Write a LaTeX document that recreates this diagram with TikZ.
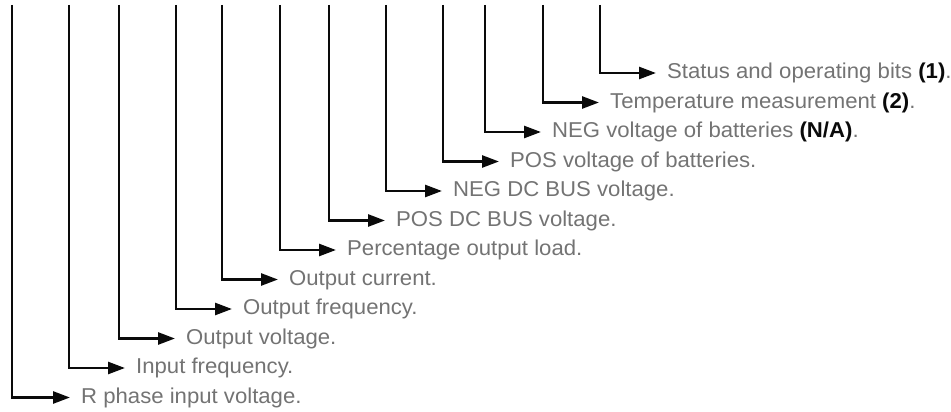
\documentclass[tikz,border=0pt]{standalone}
\usepackage{fontspec}
\setmainfont[FakeStretch=1.03]{Liberation Sans}
\usepackage{xcolor}
\usepackage{tikz}
\usetikzlibrary{arrows.meta}
\definecolor{labelgray}{RGB}{115, 115, 115}
\definecolor{linkblack}{RGB}{10, 10, 10}
\newcommand{\note}[1]{\textbf{\color{linkblack}#1}}

\begin{document}
\begin{tikzpicture}[
  x=1pt, y=-1pt,
  lbl/.style={anchor=west, inner sep=0pt, text height=15pt, text depth=4pt, text=labelgray, font=\fontsize{21.5}{25}\selectfont},
  arrow/.style={-{Triangle[length=17pt, width=12pt]}, line width=2.6pt, linkblack, shorten >=11pt}
]
\useasboundingbox (0,0) rectangle (951,412);

% Labels
\node[lbl] (rphase) at (81, 397.5) {R phase input voltage.};
\node[lbl] (infreq) at (136, 368) {Input frequency.};
\node[lbl] (outvolt) at (186, 338.5) {Output voltage.};
\node[lbl] (outfreq) at (243, 309) {Output frequency.};
\node[lbl] (outcur) at (289, 279.5) {Output current.};
\node[lbl] (outload) at (347, 250) {Percentage output load.};
\node[lbl] (posbus) at (396, 220.5) {POS DC BUS voltage.};
\node[lbl] (negbus) at (453, 191) {NEG DC BUS voltage.};
\node[lbl] (posbat) at (510, 161.5) {POS voltage of batteries.};
\node[lbl] (negbat) at (552, 132) {NEG voltage of batteries \note{(N/A)}.};
\node[lbl] (temp) at (610, 102.5) {Temperature measurement \note{(2)}.};
\node[lbl] (status) at (667, 73) {Status and operating bits \note{(1)}.};

% Frame fields
\coordinate (rphaseTop) at (12, 5);
\coordinate (infreqTop) at (69, 5);
\coordinate (outvoltTop) at (119, 5);
\coordinate (outfreqTop) at (176, 5);
\coordinate (outcurTop) at (222, 5);
\coordinate (outloadTop) at (280, 5);
\coordinate (posbusTop) at (329, 5);
\coordinate (negbusTop) at (386, 5);
\coordinate (posbatTop) at (443, 5);
\coordinate (negbatTop) at (485, 5);
\coordinate (tempTop) at (543, 5);
\coordinate (statusTop) at (600, 5);

% Connectors
\draw[arrow] (rphaseTop) |- (rphase.west);
\draw[arrow] (infreqTop) |- (infreq.west);
\draw[arrow] (outvoltTop) |- (outvolt.west);
\draw[arrow] (outfreqTop) |- (outfreq.west);
\draw[arrow] (outcurTop) |- (outcur.west);
\draw[arrow] (outloadTop) |- (outload.west);
\draw[arrow] (posbusTop) |- (posbus.west);
\draw[arrow] (negbusTop) |- (negbus.west);
\draw[arrow] (posbatTop) |- (posbat.west);
\draw[arrow] (negbatTop) |- (negbat.west);
\draw[arrow] (tempTop) |- (temp.west);
\draw[arrow] (statusTop) |- (status.west);

\end{tikzpicture}
\end{document}
